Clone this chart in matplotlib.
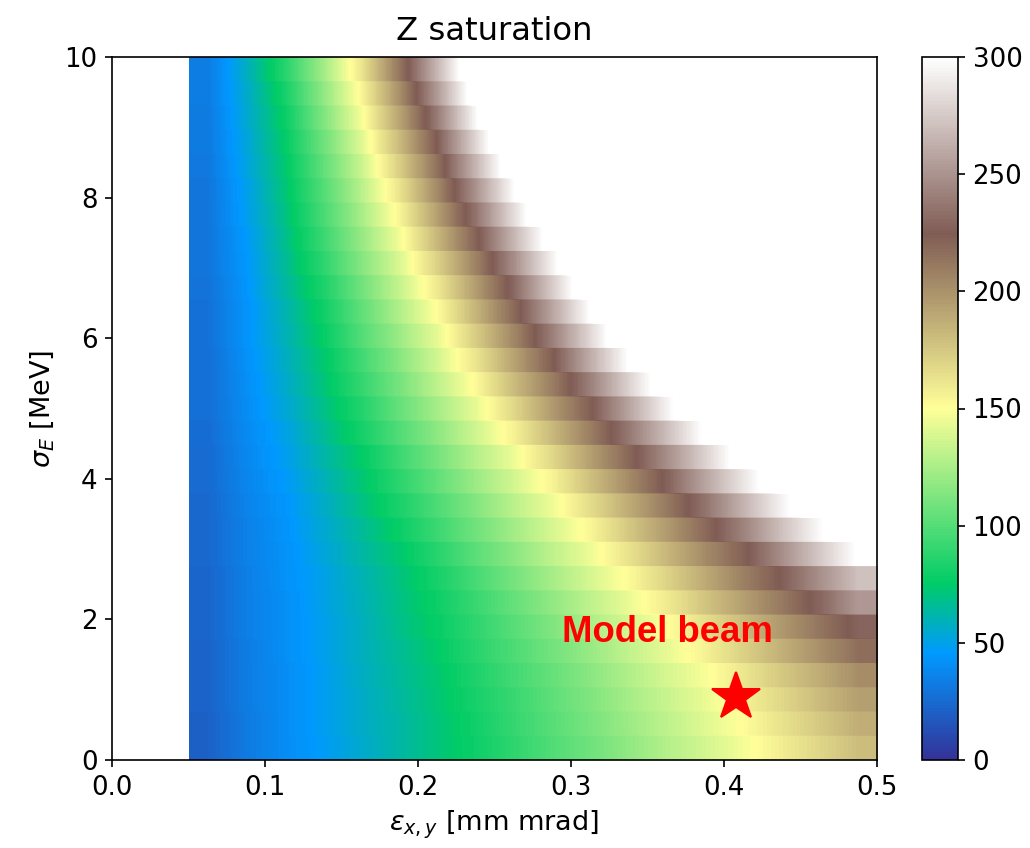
import numpy as np
import matplotlib
matplotlib.use("Agg")
import matplotlib.pyplot as plt

# Grid: emittance samples (cell centres) and energy-spread rows
emittance = [0.0625, 0.0875, 0.1125, 0.1375, 0.1625, 0.1875, 0.2125, 0.2375, 0.2625,
             0.2875, 0.3125, 0.3375, 0.3625, 0.3875, 0.4125, 0.4375, 0.4625, 0.4875]
n_sigma_rows = 29
sigma_range = (0.0, 10.0)
emittance_range = (0.05, 0.5)

# Saturation length per row, lowest energy spread first (values >= 300 lie above the colour range)
z_sat = [
    [21, 32, 40, 47, 55, 63, 71, 79, 89, 99, 108, 118, 128, 137, 147, 158, 169, 180],
    [21, 32, 40, 48, 56, 63, 71, 80, 91, 101, 111, 121, 131, 141, 151, 163, 175, 187],
    [22, 33, 40, 48, 56, 64, 72, 82, 92, 103, 113, 124, 134, 144, 156, 168, 181, 194],
    [22, 33, 40, 48, 57, 65, 73, 84, 95, 105, 116, 127, 138, 148, 161, 175, 188, 202],
    [22, 33, 41, 49, 58, 66, 75, 87, 98, 109, 120, 132, 143, 156, 171, 186, 201, 216],
    [23, 34, 41, 49, 58, 68, 77, 89, 101, 113, 126, 138, 150, 165, 181, 197, 213, 229],
    [23, 34, 41, 50, 59, 69, 79, 92, 105, 118, 131, 144, 159, 177, 194, 211, 230, 253],
    [23, 34, 42, 50, 60, 70, 82, 96, 110, 124, 138, 152, 170, 189, 208, 226, 249, 271],
    [24, 35, 42, 52, 63, 73, 87, 102, 116, 131, 145, 163, 183, 203, 222, 248, 275, 302],
    [24, 35, 43, 54, 65, 78, 93, 108, 123, 138, 154, 175, 196, 218, 243, 271, 298, 326],
    [24, 36, 44, 56, 69, 83, 98, 114, 130, 145, 166, 188, 211, 236, 265, 294, 322, 351],
    [25, 37, 46, 59, 72, 88, 104, 121, 137, 155, 179, 203, 228, 258, 288, 317, 347, 377],
    [25, 38, 48, 62, 75, 93, 110, 128, 145, 168, 194, 219, 248, 279, 311, 342, 373, 400],
    [26, 39, 50, 65, 81, 99, 117, 136, 156, 182, 209, 238, 270, 303, 336, 369, 400, 400],
    [27, 40, 53, 68, 85, 105, 124, 143, 168, 196, 223, 258, 294, 329, 364, 400, 400, 400],
    [27, 41, 55, 71, 90, 110, 131, 152, 181, 209, 242, 279, 315, 352, 389, 400, 400, 400],
    [27, 42, 57, 73, 94, 115, 137, 162, 192, 223, 262, 301, 340, 379, 400, 400, 400, 400],
    [28, 43, 59, 76, 99, 121, 143, 173, 205, 241, 282, 324, 366, 400, 400, 400, 400, 400],
    [28, 43, 60, 79, 103, 127, 151, 184, 218, 258, 301, 343, 386, 400, 400, 400, 400, 400],
    [29, 44, 63, 83, 108, 133, 160, 195, 231, 276, 321, 365, 400, 400, 400, 400, 400, 400],
    [30, 45, 65, 88, 114, 139, 171, 207, 248, 294, 339, 385, 400, 400, 400, 400, 400, 400],
    [30, 46, 67, 92, 119, 146, 183, 221, 266, 312, 358, 400, 400, 400, 400, 400, 400, 400],
    [30, 48, 69, 96, 124, 154, 194, 236, 284, 332, 380, 400, 400, 400, 400, 400, 400, 400],
    [30, 49, 71, 99, 129, 162, 204, 250, 299, 348, 398, 400, 400, 400, 400, 400, 400, 400],
    [31, 51, 73, 103, 134, 172, 215, 266, 318, 370, 400, 400, 400, 400, 400, 400, 400, 400],
    [32, 52, 75, 107, 140, 181, 226, 281, 336, 392, 400, 400, 400, 400, 400, 400, 400, 400],
    [32, 54, 77, 112, 147, 191, 240, 297, 353, 400, 400, 400, 400, 400, 400, 400, 400, 400],
    [33, 55, 81, 117, 153, 201, 254, 313, 371, 400, 400, 400, 400, 400, 400, 400, 400, 400],
    [33, 57, 86, 122, 161, 212, 267, 324, 381, 400, 400, 400, 400, 400, 400, 400, 400, 400],
]

model_beam = (0.408, 0.9)
model_label = "Model beam"
cbar_ticks = [0, 50, 100, 150, 200, 250, 300]

W, H, DPI = 1030, 848, 150
plt.rcParams["font.size"] = 12.5
fig = plt.figure(figsize=(W / DPI, H / DPI), dpi=DPI)
ax = fig.add_axes([112 / W, 1 - 760 / H, (877 - 112) / W, (760 - 57) / H])
cax = fig.add_axes([922 / W, 1 - 760 / H, 36 / W, (760 - 57) / H])

# each sigma row is a flat band; smooth only along the emittance axis
z = np.array(z_sat, dtype=float)
z_img = np.repeat(z, 24, axis=0)
im = ax.imshow(z_img, origin="lower", cmap="terrain", vmin=0, vmax=300,
               extent=[emittance_range[0], emittance_range[1], sigma_range[0], sigma_range[1]],
               aspect="auto", interpolation="bilinear", interpolation_stage="data")

ax.plot(model_beam[0], model_beam[1], marker="*", color="red", markersize=24, linestyle="none")
ax.text(0.294, 1.68, model_label, color="red", fontsize=17.5, fontweight="bold",
        family=["Liberation Sans", "DejaVu Sans"])

ax.set_xlim(0, 0.5)
ax.set_ylim(0, 10)
ax.set_xticks([0.0, 0.1, 0.2, 0.3, 0.4, 0.5])
ax.set_yticks([0, 2, 4, 6, 8, 10])
ax.set_title("Z saturation", fontsize=15.5, pad=8)
ax.set_xlabel(r"$\epsilon_{x,y}$ [mm mrad]", fontsize=13)
ax.set_ylabel(r"$\sigma_E$ [MeV]", fontsize=13)

cb = fig.colorbar(im, cax=cax, ticks=cbar_ticks)

fig.savefig("out.png", dpi=DPI)
